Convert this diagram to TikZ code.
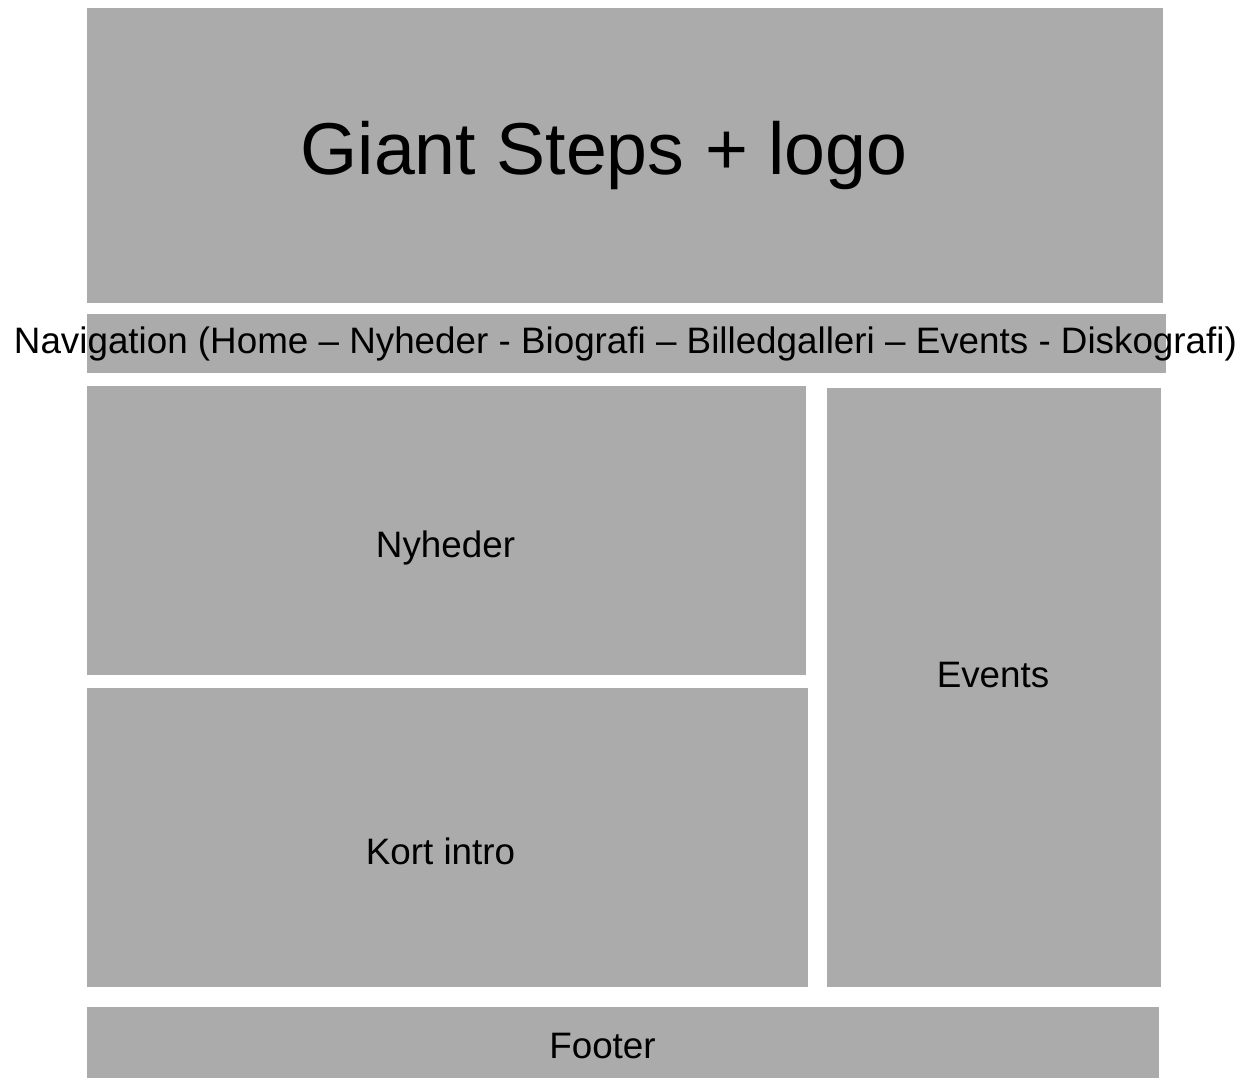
\documentclass[tikz,border=0pt]{standalone}
\usepackage{fontspec}
\setmainfont{Liberation Sans}
\definecolor{boxgray}{HTML}{ABABAB}
\begin{document}
\begin{tikzpicture}[x=1pt,y=-1pt,
  box/.style={fill=boxgray,draw=none,inner sep=0pt,outer sep=0pt},
  lbl/.style={anchor=base,inner sep=0pt,text=black,font=\fontsize{36.8}{40}\selectfont}]
\useasboundingbox[fill=white] (0,0) rectangle (1250,1078);
% boxes
\node[box,minimum width=1076pt,minimum height=294pt] (header) at (625,155.5) {};
\node[box,minimum width=1079pt,minimum height=58.5pt] (nav) at (626.5,343.5) {};
\node[box,minimum width=719pt,minimum height=288.5pt] (nyheder) at (446.5,530.5) {};
\node[box,minimum width=721pt,minimum height=299pt] (kort) at (447.5,837) {};
\node[box,minimum width=334pt,minimum height=599pt] (events) at (994,687.5) {};
\node[box,minimum width=1072pt,minimum height=71pt] (footer) at (623,1042.5) {};
% texts
\node[lbl,font=\fontsize{73.5}{80}\selectfont] (headertext) at (604,175) {Giant Steps + logo};
\node[lbl] (navtext) at (625.5,353) {Navigation (Home – Nyheder - Biografi – Billedgalleri – Events - Diskografi)};
\node[lbl] (nyhedertext) at (445.5,557) {Nyheder};
\node[lbl] (korttext) at (440.5,864) {Kort intro};
\node[lbl] (eventstext) at (993,687) {Events};
\node[lbl] (footertext) at (602.5,1058) {Footer};
\end{tikzpicture}
\end{document}
